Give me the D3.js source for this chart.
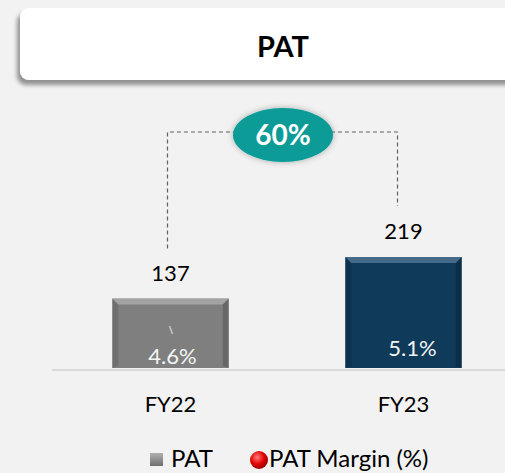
<!DOCTYPE html>
<html>
	<head>
		<meta charset="UTF-8">
		<title></title>
		<script src="https://cdn.jsdelivr.net/npm/d3@7"></script>
		<style>
			html,body{margin:0;padding:0;background:#f2f2f2;}
			text{font-family:Lato,"Open Sans",sans-serif;}
		</style>
	</head>
	<body>
		<div id="svg"></div>
		<script>
      // data
      const categories = ['FY22','FY23']
      const pat = [137, 219]
      const patMargin = [4.6, 5.1]
      const growthLabel = '60%'
      const colors = ['#7f7f7f', '#0f3a5a']
      const highlight = ['#a9a9a9', '#4d7391']

      const W = 505, H = 473
      const svg = d3.select('#svg').append('svg').attr('width',W).attr('height',H)
      const defs = svg.append('defs')

      // shadow filters
      const f1 = defs.append('filter').attr('id','boxShadow').attr('x','-10%').attr('y','-20%').attr('width','120%').attr('height','150%')
      f1.append('feDropShadow').attr('dx',-3).attr('dy',5).attr('stdDeviation',2).attr('flood-color','#000').attr('flood-opacity',0.4)
      const f2 = defs.append('filter').attr('id','glow').attr('x','-30%').attr('y','-40%').attr('width','160%').attr('height','180%')
      f2.append('feDropShadow').attr('dx',0).attr('dy',0).attr('stdDeviation',3).attr('flood-color','#000').attr('flood-opacity',0.3)

      // legend gradients
      const rg = defs.append('radialGradient').attr('id','redBall').attr('cx','40%').attr('cy','35%').attr('r','65%')
      rg.append('stop').attr('offset','0%').attr('stop-color','#ff7a7a')
      rg.append('stop').attr('offset','60%').attr('stop-color','#e00000')
      rg.append('stop').attr('offset','100%').attr('stop-color','#9a0000')
      const sg = defs.append('linearGradient').attr('id','greySq').attr('x1',0).attr('y1',0).attr('x2',0).attr('y2',1)
      sg.append('stop').attr('offset','0%').attr('stop-color','#b0b0b0')
      sg.append('stop').attr('offset','100%').attr('stop-color','#6f6f6f')

      // title box
      svg.append('rect').attr('x',20).attr('y',8).attr('width',W).attr('height',72).attr('rx',9)
         .attr('fill','#fff').attr('filter','url(#boxShadow)')
      svg.append('text').attr('x',283).attr('y',57).attr('text-anchor','middle')
         .attr('font-size',29).attr('font-weight','bold').attr('fill','#000').text('PAT')

      // scales
      const x = d3.scaleBand().domain(categories).range([54,520]).paddingInner(0.5).paddingOuter(0.25)
      const y = d3.scaleLinear().domain([0,219]).range([368,257])
      const y2 = d3.scaleLinear().domain([4,6]).range([373.6,341.6])
      const bw = x.bandwidth()

      // axis baseline
      svg.append('line').attr('x1',52).attr('x2',W).attr('y1',370).attr('y2',370)
         .attr('stroke','#d9d9d9').attr('stroke-width',2)

      // bars with bevel
      const bars = svg.selectAll('g.bar').data(pat).enter().append('g').attr('class','bar')
      bars.append('rect').attr('x',(d,i)=>x(categories[i])).attr('y',d=>y(d))
          .attr('width',bw).attr('height',d=>y(0)-y(d)).attr('fill',(d,i)=>colors[i])
      const bv = 6
      bars.append('path').attr('fill',(d,i)=>highlight[i]).attr('opacity',0.85)
          .attr('d',(d,i)=>{const x0=x(categories[i]),x1=x0+bw,t=y(d);return `M${x0},${t}L${x1},${t}L${x1-bv},${t+bv}L${x0+bv},${t+bv}Z`})
      bars.append('path').attr('fill','#000').attr('opacity',0.12)
          .attr('d',(d,i)=>{const x0=x(categories[i]),t=y(d),b=y(0);return `M${x0},${t}L${x0+bv},${t+bv}L${x0+bv},${b-2}L${x0},${b}Z`})
      bars.append('path').attr('fill','#000').attr('opacity',0.18)
          .attr('d',(d,i)=>{const x1=x(categories[i])+bw,t=y(d),b=y(0);return `M${x1},${t}L${x1-bv},${t+bv}L${x1-bv},${b-2}L${x1},${b}Z`})

      // value labels
      svg.selectAll('text.val').data(pat).enter().append('text').attr('class','val')
         .attr('x',(d,i)=>x(categories[i])+bw/2).attr('y',d=>y(d)-18)
         .attr('text-anchor','middle').attr('font-size',22).attr('fill','#000').text(d=>d)

      // margin labels (hidden line series)
      svg.append('line').attr('x1',x(categories[0])+bw/2-1).attr('x2',x(categories[0])+bw/2+2)
         .attr('y1',y2(patMargin[0])-38).attr('y2',y2(patMargin[0])-30).attr('stroke','#c8c8c8').attr('stroke-width',1.5)
      svg.selectAll('text.mg').data(patMargin).enter().append('text').attr('class','mg')
         .attr('x',(d,i)=>x(categories[i])+bw/2+2+i*7).attr('y',d=>y2(d))
         .attr('text-anchor','middle').attr('font-size',22).attr('fill','#f4f4f4').text(d=>d.toFixed(1)+'%')

      // category labels
      svg.selectAll('text.cat').data(categories).enter().append('text').attr('class','cat')
         .attr('x',d=>x(d)+bw/2).attr('y',412).attr('text-anchor','middle')
         .attr('font-size',22).attr('fill','#000').text(d=>d)

      // growth connector
      const lx = x(categories[0])+bw/2-3, rx = x(categories[1])+bw/2-6, topY = 132
      svg.append('path').attr('fill','none').attr('stroke','#606060').attr('stroke-width',1.2).attr('stroke-dasharray','4,3')
         .attr('d',`M${lx},${y(pat[0])-50}V${topY}H${rx}V${y(pat[1])-51}`)
      svg.append('ellipse').attr('cx',283).attr('cy',135).attr('rx',50).attr('ry',27)
         .attr('fill','#079b97').attr('filter','url(#glow)')
      svg.append('text').attr('x',283).attr('y',145).attr('text-anchor','middle')
         .attr('font-size',28).attr('font-weight','bold').attr('fill','#fff').text(growthLabel)

      // legend
      const lg = svg.append('g')
      lg.append('rect').attr('x',150).attr('y',453).attr('width',13).attr('height',13).attr('fill','url(#greySq)')
      lg.append('text').attr('x',171).attr('y',467).attr('font-size',24).attr('fill','#000').text('PAT')
      lg.append('circle').attr('cx',259).attr('cy',460).attr('r',9).attr('fill','url(#redBall)')
      lg.append('text').attr('x',269).attr('y',467).attr('font-size',24).attr('fill','#000').text('PAT Margin (%)')
		</script>
	</body>
</html>
